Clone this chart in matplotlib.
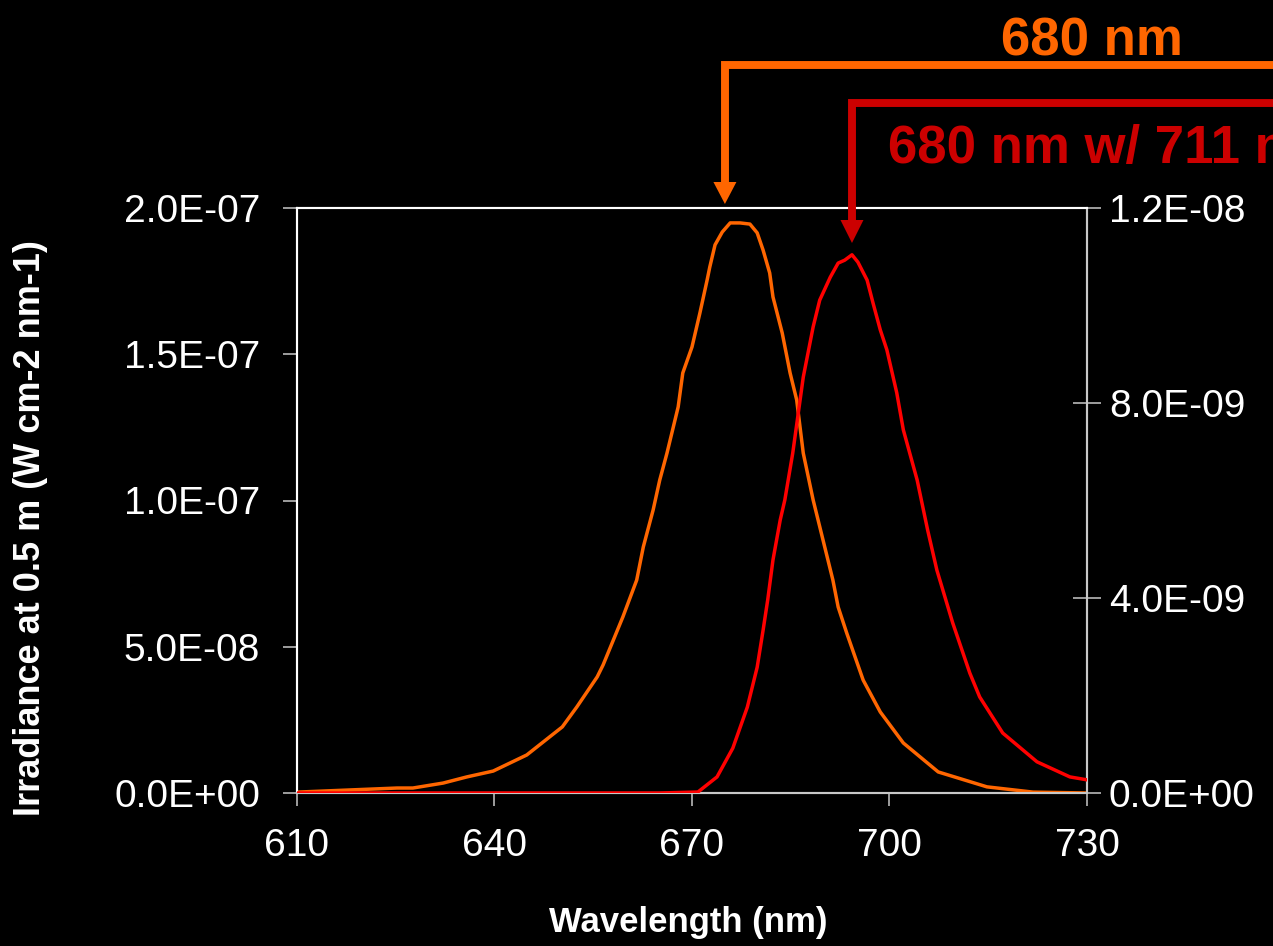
import matplotlib
matplotlib.use("Agg")
import matplotlib.pyplot as plt
from matplotlib.lines import Line2D
from matplotlib.patches import Polygon
from matplotlib.ticker import FixedLocator, FuncFormatter

plt.rcParams['font.family'] = ['Liberation Sans', 'DejaVu Sans']

# Spectrum of the 680 nm source (left axis, W cm-2 nm-1)
wl_680 = [610.0, 617.6, 625.2, 627.6, 632.2, 635.8, 639.8, 644.9, 650.3, 652.5,
          655.6, 656.5, 659.5, 661.6, 662.6, 664.1, 665.1, 666.2, 667.9, 668.6,
          670.0, 671.2, 672.3, 672.7, 673.5, 674.6, 675.8, 677.3, 678.8, 679.9,
          680.8, 681.8, 682.3, 683.7, 684.9, 685.9, 686.9, 688.4, 691.4, 692.2,
          693.5, 696.0, 698.6, 702.1, 707.4, 714.8, 721.8, 730.0]
irr_680 = [0.3, 1.0, 1.7, 1.7, 3.4, 5.5, 7.5, 13.0, 22.6, 29.4,
           39.7, 43.8, 60.2, 72.8, 84.1, 96.8, 107.0, 116.2, 132.0, 143.6,
           152.5, 164.1, 175.4, 179.8, 187.4, 191.8, 194.9, 194.9, 194.5, 191.5,
           185.6, 177.8, 169.6, 157.3, 143.6, 134.4, 116.2, 100.2, 72.8, 63.6,
           54.7, 38.6, 27.7, 17.1, 7.2, 2.1, 0.3, 0.0]  # x 1e-9

# Spectrum of the 680 nm source behind the 711 nm filter (right axis)
wl_711 = [610.0, 640.0, 665.0, 670.9, 673.8, 676.2, 678.4, 679.9, 680.8, 681.5,
          682.3, 683.4, 684.1, 685.3, 686.9, 688.4, 689.4, 691.0, 692.2, 693.2,
          694.3, 695.2, 696.6, 697.5, 698.6, 699.6, 701.1, 702.1, 704.2, 705.8,
          707.2, 709.6, 712.2, 713.7, 717.2, 722.4, 727.4, 730.0]
irr_711 = [0.0, 0.0, 0.0, 0.02, 0.33, 0.92, 1.76, 2.58, 3.34, 3.96,
           4.78, 5.60, 6.01, 6.97, 8.53, 9.56, 10.11, 10.58, 10.87, 10.93,
           11.04, 10.89, 10.52, 10.05, 9.50, 9.09, 8.21, 7.45, 6.42, 5.39,
           4.57, 3.49, 2.46, 1.97, 1.23, 0.64, 0.33, 0.27]  # x 1e-9

x_ticks = [610, 640, 670, 700, 730]
left_ticks = [0.0, 5e-8, 1e-7, 1.5e-7, 2e-7]
right_ticks = [0.0, 4e-9, 8e-9, 1.2e-8]

labels = ["680 nm", "680 nm w/ 711 nm"]
arrow_nm = [675, 694.3]

ORANGE = "#FF6600"
RED_LINE = "#FF0000"
RED_NOTE = "#CC0000"
TICK_GREY = "#C8C8C8"

W, H = 1273, 946
fig = plt.figure(figsize=(W / 100, H / 100), dpi=100, facecolor="black")

ax = fig.add_axes([297 / W, 1 - 793 / H, (1087 - 297) / W, (793 - 208) / H])
ax.set_facecolor("black")
ax2 = ax.twinx()

ax.plot(wl_680, [v * 1e-9 for v in irr_680], color=ORANGE, lw=2.5,
        solid_joinstyle="round", zorder=3)
ax2.plot(wl_711, [v * 1e-9 for v in irr_711], color=RED_LINE, lw=2.5,
         solid_joinstyle="round", zorder=3)

ax.set_xlim(610, 730)
ax.set_ylim(0, 2e-7)
ax2.set_ylim(0, 1.2e-8)

sci = FuncFormatter(lambda v, p: f"{v:.1E}")
ax.xaxis.set_major_locator(FixedLocator(x_ticks))
ax.yaxis.set_major_locator(FixedLocator(left_ticks))
ax2.yaxis.set_major_locator(FixedLocator(right_ticks))
ax.yaxis.set_major_formatter(sci)
ax2.yaxis.set_major_formatter(sci)

ax.tick_params(axis="x", direction="out", length=9.5, width=1.1, color=TICK_GREY,
               labelsize=28, labelcolor="white", pad=16)
ax.tick_params(axis="y", direction="out", length=10, width=1.1, color=TICK_GREY,
               labelsize=28, labelcolor="white", pad=16.5)
ax2.tick_params(axis="y", direction="inout", length=19.5, width=1.1, color=TICK_GREY,
                labelsize=28, labelcolor="white", pad=6)

for a in (ax, ax2):
    for side, sp in a.spines.items():
        sp.set_linewidth(1.5)
        sp.set_color("white" if side in ("left", "top") else TICK_GREY)
        sp.set_zorder(2)

fig.text(688 / W, 1 - 922 / H, "Wavelength (nm)", color="white", fontsize=25,
         fontweight="bold", ha="center", va="center")
fig.text(31 / W, 1 - 528 / H, "Irradiance at 0.5 m (W cm-2 nm-1)", color="white",
         fontsize=26, fontweight="bold", ha="center", va="center", rotation=90)

# Callout connectors: horizontal bar running off the right edge, then down to an arrow
to_fig = fig.transFigure.inverted()


def callout(nm, bar_y, base_y, tip_y, color, text, text_x, text_base):
    px = ax.transData.transform((nm, 0))[0]
    xf = to_fig.transform((px, 0))[0]
    fy = lambda py: 1 - py / H
    fig.add_artist(Line2D([1.02, xf, xf], [fy(bar_y), fy(bar_y), fy(base_y + 2)],
                          transform=fig.transFigure, color=color, lw=5.7,
                          solid_joinstyle="miter", solid_capstyle="butt",
                          clip_on=False, zorder=5))
    half = 11.5 / W
    fig.add_artist(Polygon([[xf - half, fy(base_y)], [xf + half, fy(base_y)],
                            [xf, fy(tip_y)]], closed=True, transform=fig.transFigure,
                           facecolor=color, edgecolor="none", zorder=5))
    fig.text(text_x / W, fy(text_base), text, color=color, fontsize=38,
             fontweight="bold", ha="left", va="baseline", zorder=6)


callout(arrow_nm[0], 65, 182, 204, ORANGE, labels[0], 1001, 55)
callout(arrow_nm[1], 103, 220, 243, RED_NOTE, labels[1], 888, 163)

fig.savefig("out.png", dpi=100, facecolor="black")
